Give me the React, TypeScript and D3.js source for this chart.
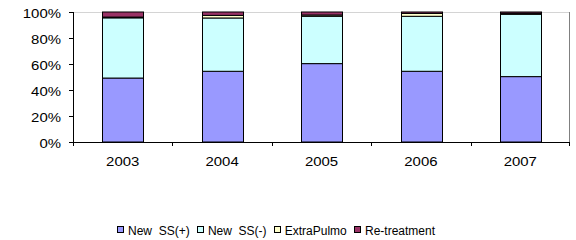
import { useEffect, useRef } from "react"
import * as d3 from "d3"

const years = ["2003", "2004", "2005", "2006", "2007"]
const seriesNames = ["New SS(+)", "New SS(-)", "ExtraPulmo", "Re-treatment"]
const newSSPos = [49.2, 54.4, 60.3, 54.4, 50.3]
const newSSNeg = [46.3, 41.0, 36.4, 42.3, 47.9]
const extraPulmo = [0.6, 2.0, 1.0, 2.2, 0.8]
const reTreatment = [3.9, 2.6, 2.3, 1.1, 1.0]
const colors = ["#9999ff", "#ccffff", "#ffffcc", "#993366"]
const yTicks = [0, 20, 40, 60, 80, 100]

const W = 576
const H = 240
const margin = { left: 73, right: 6, top: 12, bottom: 98 }
const font = "'Liberation Sans', Arial, sans-serif"
const stretch = 1.15

export default function App() {
  const svgRef = useRef<SVGSVGElement>(null)

  useEffect(() => {
    const svg = d3.select(svgRef.current)
    svg.selectAll("*").remove()

    const x0 = margin.left
    const x1 = W - margin.right
    const y0 = H - margin.bottom
    const y1 = margin.top

    // text drawn slightly wider than the font, like the original export
    const label = (g: any, tx: number, ty: number, s: string, anchor: string, sx = stretch, size = 13) =>
      g.append("text")
        .attr("transform", `translate(${tx},${ty}) scale(${sx},1)`)
        .attr("text-anchor", anchor)
        .attr("font-family", font)
        .attr("font-size", `${size}px`)
        .attr("fill", "#000")
        .text(s)

    const rows = years.map((year, i) => ({
      year,
      [seriesNames[0]]: newSSPos[i],
      [seriesNames[1]]: newSSNeg[i],
      [seriesNames[2]]: extraPulmo[i],
      [seriesNames[3]]: reTreatment[i],
    }))

    const layers = d3.stack<any>().keys(seriesNames).offset(d3.stackOffsetExpand)(rows)

    const x = d3.scaleBand().domain(years).range([x0, x1]).paddingInner(0.59).paddingOuter(0.295)
    const xb = d3.scaleBand().domain(years).range([x0, x1])
    const y = d3.scaleLinear().domain([0, 1]).range([y0, y1])

    // plot area border
    svg.append("line").attr("x1", x0).attr("x2", x1).attr("y1", y1 + 0.5).attr("y2", y1 + 0.5)
      .attr("stroke", "#d4d4d4")
    svg.append("line").attr("x1", x1 - 0.5).attr("x2", x1 - 0.5).attr("y1", y1).attr("y2", y0)
      .attr("stroke", "#808080")

    // bars
    layers.forEach((layer, li) => {
      svg.append("g")
        .selectAll("rect")
        .data(layer)
        .enter()
        .append("rect")
        .attr("x", (d) => Math.round(x(d.data.year)!) + 0.5)
        .attr("width", Math.round(x.bandwidth()))
        .attr("y", (d) => y(d[1]))
        .attr("height", (d) => y(d[0]) - y(d[1]))
        .attr("fill", colors[li])
        .attr("stroke", "#000")
        .attr("stroke-width", 1)
    })

    // y axis
    const ya = svg.append("g")
    ya.append("line").attr("x1", x0 + 0.5).attr("x2", x0 + 0.5).attr("y1", y1).attr("y2", y0)
      .attr("stroke", "#000")
    yTicks.forEach((t) => {
      const yy = Math.round(y(t / 100)) + 0.5
      ya.append("line").attr("x1", x0 - 4).attr("x2", x0).attr("y1", yy).attr("y2", yy).attr("stroke", "#000")
      label(ya, x0 - 12, yy + 5, `${t}%`, "end")
    })

    // x axis
    const xa = svg.append("g")
    xa.append("line").attr("x1", x0).attr("x2", x1).attr("y1", y0 + 0.5).attr("y2", y0 + 0.5)
      .attr("stroke", "#000")
    years.forEach((yr, i) => {
      const bx = Math.round(xb(yr)!) + 0.5
      xa.append("line").attr("x1", bx).attr("x2", bx).attr("y1", y0).attr("y2", y0 + 4).attr("stroke", "#000")
      if (i === years.length - 1) {
        xa.append("line").attr("x1", x1 - 0.5).attr("x2", x1 - 0.5).attr("y1", y0).attr("y2", y0 + 4).attr("stroke", "#000")
      }
      label(xa, xb(yr)! + xb.bandwidth() / 2, y0 + 24, yr, "middle")
    })

    // legend, spread between its two ends
    const lg = svg.append("g")
    const ly = 235
    const lStart = 117
    const lEnd = 435
    const items = seriesNames.map((name, i) => {
      const t = label(lg, 0, ly, name.replace("New ", "New\u00a0\u00a0"), "start", 1, 12)
      const w = (t.node() as SVGTextElement).getComputedTextLength()
      return { t, w, i }
    })
    const box = 7
    const pad = 4
    const used = d3.sum(items, (d) => box + pad + d.w)
    const gap = Math.max(5, (lEnd - lStart - used) / (items.length - 1))
    let lx = lStart
    items.forEach((it) => {
      lg.append("rect")
        .attr("x", Math.round(lx) + 0.5)
        .attr("y", ly - 8.5)
        .attr("width", box - 1)
        .attr("height", box - 1)
        .attr("fill", colors[it.i])
        .attr("stroke", "#000")
      it.t.attr("transform", `translate(${lx + box + pad},${ly})`)
      lx += box + pad + it.w + gap
    })
  }, [])

  return (
    <svg
      ref={svgRef}
      width={W}
      height={H}
      style={{ position: "absolute", left: 0, top: 0, background: "#fff" }}
    />
  )
}
